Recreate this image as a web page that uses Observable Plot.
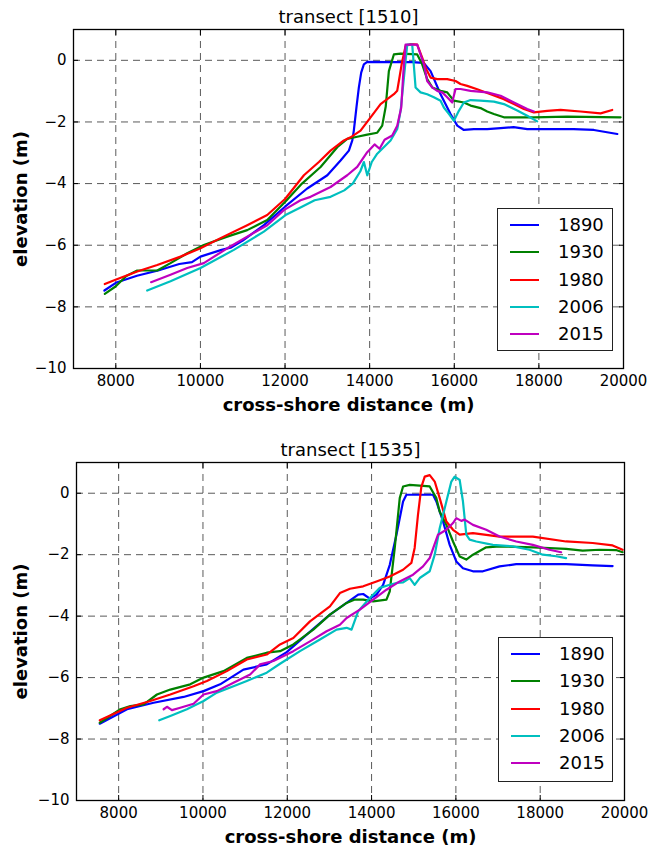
<!DOCTYPE html>
<html>
<head>
<meta charset="utf-8">
<script src="https://cdn.jsdelivr.net/npm/d3@7"></script>
<script src="https://cdn.jsdelivr.net/npm/@observablehq/plot@0.6"></script>
<style>
  html, body { margin: 0; padding: 0; background: #fff; }
  body { width: 649px; height: 848px; position: relative; overflow: hidden; font-family: "DejaVu Sans", sans-serif; }
  .panel { position: absolute; left: 0; width: 649px; height: 424px; }
  .legend { position: absolute; border: 1.3px solid #222; background: #fff; box-sizing: border-box; }
  .legend .row { position: absolute; left: 0; height: 0; }
  .legend .sw { position: absolute; left: 12px; width: 29px; height: 2px; top: -1px; }
  .legend .lb { position: absolute; left: 60px; top: -11px; font-size: 18px; line-height: 22px; color: #000; white-space: nowrap; }
</style>
</head>
<body>
<div id="top" class="panel" style="top:0"></div>
<div id="bottom" class="panel" style="top:424px"></div>
<script>
// ---------- data ----------
const years = ["1890", "1930", "1980", "2006", "2015"];
const colors = ["#0000ff", "#008000", "#ff0000", "#00bfbf", "#bf00bf"];
const xTicks = [8000, 10000, 12000, 14000, 16000, 18000, 20000];
const yTicks = [-10, -8, -6, -4, -2, 0];
const titles = ["transect [1510]", "transect [1535]"];
const xLabel = "cross-shore distance (m)";
const yLabel = "elevation (m)";

// transect 1510 : [distance, elevation]
const t1510_1890 = [[7730,-7.47],[8000,-7.22],[8500,-6.99],[9000,-6.82],[9500,-6.61],[9800,-6.55],[10000,-6.37],[10500,-6.15],[10712,-6.08],[11000,-5.85],[11500,-5.35],[12000,-4.75],[12524,-4.16],[13000,-3.73],[13312,-3.25],[13509,-2.93],[13590,-2.6],[13626,-2.28],[13690,-1.5],[13745,-0.88],[13800,-0.4],[13863,-0.13],[13943,-0.05],[14500,-0.06],[15000,-0.06],[15274,-0.08],[15440,-0.35],[15676,-1.10],[15912,-1.74],[16071,-2.12],[16227,-2.26],[16463,-2.23],[16780,-2.23],[17094,-2.2],[17402,-2.17],[17725,-2.23],[18040,-2.23],[18513,-2.23],[18820,-2.23],[19300,-2.26],[19853,-2.39]];
const t1510_1930 = [[7740,-7.58],[7993,-7.34],[8250,-7.0],[8506,-6.82],[8979,-6.82],[9293,-6.58],[9688,-6.26],[10080,-5.99],[10634,-5.72],[11106,-5.51],[11579,-5.18],[12000,-4.6],[12400,-4.0],[12840,-3.46],[13234,-2.82],[13470,-2.55],[13706,-2.48],[13943,-2.41],[14179,-2.35],[14297,-2.12],[14380,-1.5],[14454,-0.35],[14572,0.19],[14730,0.22],[15124,0.19],[15242,-0.13],[15360,-0.61],[15479,-0.88],[15676,-0.99],[15833,-1.04],[15991,-1.31],[16227,-1.37],[16385,-1.47],[16621,-1.55],[16779,-1.66],[16936,-1.74],[17173,-1.85],[17882,-1.85],[18670,-1.83],[19931,-1.85]];
const t1510_1980 = [[7740,-7.26],[7993,-7.12],[8506,-6.85],[8979,-6.64],[9530,-6.37],[10002,-6.1],[10475,-5.77],[11106,-5.35],[11579,-5.02],[12000,-4.5],[12446,-3.73],[12800,-3.3],[13076,-2.93],[13391,-2.6],[13549,-2.5],[13785,-2.28],[14022,-1.85],[14258,-1.42],[14573,-1.1],[14651,-0.99],[14700,-0.6],[14760,-0.1],[14848,0.46],[14966,0.53],[15124,0.51],[15242,0.09],[15321,-0.24],[15439,-0.56],[15597,-0.61],[15833,-0.61],[16030,-0.67],[16148,-0.77],[16306,-0.83],[16542,-0.94],[16858,-1.1],[17173,-1.26],[17409,-1.42],[17646,-1.58],[17882,-1.69],[18197,-1.64],[18512,-1.61],[18985,-1.66],[19458,-1.72],[19734,-1.61]];
const t1510_2006 = [[8742,-7.47],[9293,-7.17],[10002,-6.74],[10790,-6.15],[11499,-5.56],[12012,-5.02],[12400,-4.75],[12700,-4.54],[13076,-4.43],[13400,-4.22],[13600,-4.0],[13780,-3.6],[13864,-3.3],[13943,-3.73],[14050,-3.3],[14179,-3.03],[14495,-2.6],[14652,-2.23],[14731,-1.64],[14810,-0.56],[14888,0.51],[15006,0.51],[15085,-0.88],[15203,-1.04],[15360,-1.1],[15518,-1.2],[15676,-1.31],[15754,-1.53],[15872,-1.74],[15991,-1.96],[16109,-1.64],[16227,-1.37],[16385,-1.29],[16621,-1.31],[16936,-1.34],[17173,-1.42],[17488,-1.63],[17724,-1.80],[17961,-1.98]];
const t1510_2015 = [[8834,-7.2],[9293,-6.96],[9688,-6.74],[10080,-6.58],[10634,-6.1],[11106,-5.72],[11579,-5.35],[11972,-4.86],[12366,-4.54],[12603,-4.43],[13076,-4.11],[13470,-3.73],[13706,-3.46],[13943,-2.98],[14116,-2.73],[14234,-2.87],[14353,-2.58],[14534,-2.44],[14652,-2.12],[14747,-1.53],[14794,-0.45],[14848,0.51],[15124,0.51],[15282,-0.13],[15360,-0.67],[15479,-0.88],[15597,-0.99],[15715,-1.04],[15833,-1.2],[15951,-1.37],[16030,-0.93],[16148,-0.93],[16385,-0.99],[16779,-1.04],[17094,-1.15],[17409,-1.37],[17725,-1.58],[17882,-1.66]];

// transect 1535 : [distance, elevation]
const t1535_1890 = [[7552,-7.5],[8199,-7.03],[8830,-6.82],[9540,-6.63],[10014,-6.44],[10408,-6.22],[10960,-5.74],[11513,-5.57],[11986,-5.17],[12460,-4.6],[13012,-3.95],[13407,-3.57],[13683,-3.30],[13801,-3.28],[13959,-3.43],[14117,-3.30],[14274,-2.98],[14432,-2.33],[14590,-1.35],[14747,-0.27],[14826,-0.05],[15458,-0.05],[15537,-0.27],[15695,-0.92],[15853,-1.68],[16010,-2.22],[16168,-2.44],[16405,-2.54],[16642,-2.54],[17036,-2.38],[17431,-2.31],[17983,-2.31],[18614,-2.31],[19245,-2.35],[19718,-2.37]];
const t1535_1930 = [[7552,-7.47],[8041,-7.03],[8278,-6.93],[8594,-6.87],[8909,-6.55],[9225,-6.39],[9698,-6.22],[10014,-6.0],[10487,-5.79],[11040,-5.36],[11513,-5.19],[11828,-5.14],[12144,-4.92],[12617,-4.44],[13012,-3.95],[13407,-3.57],[13604,-3.46],[13801,-3.46],[14038,-3.52],[14353,-3.46],[14432,-3.19],[14550,-1.78],[14668,-0.16],[14747,0.22],[14906,0.27],[15379,0.22],[15537,-0.16],[15616,-0.6],[15774,-1.03],[15932,-1.57],[16090,-2.06],[16247,-2.16],[16405,-2.0],[16720,-1.76],[17036,-1.73],[17825,-1.76],[18614,-1.81],[19009,-1.87],[19403,-1.84],[19798,-1.85],[19955,-1.92]];
const t1535_1980 = [[7552,-7.39],[8199,-6.98],[8751,-6.76],[9225,-6.55],[9777,-6.28],[10093,-6.11],[10566,-5.79],[11040,-5.41],[11513,-5.25],[11828,-4.92],[12144,-4.71],[12539,-4.17],[13012,-3.68],[13249,-3.25],[13486,-3.11],[13801,-3.03],[14117,-2.87],[14432,-2.71],[14747,-2.49],[14944,-2.27],[15022,-1.78],[15101,-0.70],[15180,0.2],[15261,0.54],[15379,0.59],[15498,0.38],[15616,-0.16],[15774,-0.92],[15932,-1.19],[16090,-1.35],[16405,-1.30],[17036,-1.41],[17825,-1.41],[18614,-1.57],[19245,-1.62],[19718,-1.70],[19955,-1.84]];
const t1535_2006 = [[8964,-7.39],[9225,-7.25],[9619,-7.03],[10014,-6.76],[10329,-6.49],[10724,-6.28],[11040,-6.11],[11513,-5.84],[11828,-5.55],[12302,-5.14],[12775,-4.76],[13170,-4.44],[13407,-4.38],[13525,-4.44],[13683,-3.84],[13959,-3.41],[14196,-3.08],[14432,-2.98],[14590,-2.92],[14750,-2.9],[14905,-2.76],[15022,-2.98],[15142,-2.76],[15379,-2.54],[15498,-2.0],[15616,-1.14],[15774,-0.27],[15892,0.38],[15971,0.54],[16090,0.43],[16168,-0.27],[16247,-1.35],[16326,-1.51],[16484,-1.57],[16878,-1.68],[17352,-1.73],[17746,-1.84],[18062,-2.0],[18377,-2.05],[18614,-2.11]];
const t1535_2015 = [[9067,-7.03],[9146,-6.95],[9264,-7.06],[9461,-6.98],[9777,-6.85],[10014,-6.55],[10329,-6.44],[10724,-6.17],[11119,-5.9],[11355,-5.57],[11671,-5.46],[12144,-5.14],[12538,-4.82],[12933,-4.49],[13249,-4.28],[13407,-4.06],[13722,-3.79],[14038,-3.46],[14353,-3.14],[14668,-2.87],[14984,-2.65],[15221,-2.38],[15379,-2.11],[15458,-1.8],[15576,-1.35],[15774,-1.19],[15932,-0.97],[16010,-0.81],[16129,-0.9],[16208,-0.86],[16405,-1.03],[16720,-1.19],[17036,-1.41],[17431,-1.57],[17825,-1.68],[18220,-1.84],[18496,-1.92]];

const panels = [
  {id: "top", title: titles[0], series: [t1510_1890, t1510_1930, t1510_1980, t1510_2006, t1510_2015],
   m: {top: 29, bottom: 56, left: 73, right: 26}, titleY: 17, legend: {left: 497, top: 208, width: 116, height: 143}},
  {id: "bottom", title: titles[1], series: [t1535_1890, t1535_1930, t1535_1980, t1535_2006, t1535_2015],
   m: {top: 38, bottom: 48, left: 76, right: 25}, titleY: 26, legend: {left: 498, top: 213, width: 115, height: 145}}
];

const fmt = d => (d < 0 ? "\u2212" + Math.abs(d) : String(d));

for (const p of panels) {
  const rows = p.series.flatMap((pts, i) => pts.map(([x, y]) => ({year: years[i], x, y})));
  const chart = Plot.plot({
    width: 649, height: 424,
    marginTop: p.m.top, marginBottom: p.m.bottom, marginLeft: p.m.left, marginRight: p.m.right,
    x: {domain: [7000, 20000], axis: null},
    y: {domain: [-10, 1], axis: null},
    color: {domain: years, range: colors},
    style: {fontFamily: "DejaVu Sans", fontSize: "15px", background: "white", color: "black", overflow: "visible"},
    marks: [
      Plot.gridX(xTicks.filter(d => d < 20000), {stroke: "#000", strokeOpacity: 0.65, strokeWidth: 1, strokeDasharray: "7,5"}),
      Plot.gridY(yTicks.filter(d => d > -10), {stroke: "#000", strokeOpacity: 0.65, strokeWidth: 1, strokeDasharray: "7,5"}),
      Plot.line(rows, {x: "x", y: "y", z: "year", stroke: "year", strokeWidth: 2.2, strokeLinejoin: "round"}),
      Plot.axisX(xTicks, {anchor: "bottom", tickSize: -5, tickFormat: () => "", label: null, strokeWidth: 1}),
      Plot.axisX(xTicks, {anchor: "top", tickSize: -5, tickFormat: () => "", label: null, strokeWidth: 1}),
      Plot.axisY(yTicks, {anchor: "left", tickSize: -5, tickFormat: () => "", label: null, strokeWidth: 1}),
      Plot.axisY(yTicks, {anchor: "right", tickSize: -5, tickFormat: () => "", label: null, strokeWidth: 1}),
      Plot.frame({stroke: "#000", strokeWidth: 1.3}),
      Plot.text(xTicks, {x: d => d, frameAnchor: "bottom", lineAnchor: "middle", dy: 13, text: d => String(d), fontSize: 15, fill: "#000"}),
      Plot.text(yTicks, {y: d => d, frameAnchor: "left", lineAnchor: "middle", dx: -7, textAnchor: "end", text: fmt, fontSize: 15, fill: "#000"}),
      Plot.text([p.title], {frameAnchor: "top", lineAnchor: "middle", dy: p.titleY - p.m.top, text: d => d, fontSize: 18, fill: "#000"}),
      Plot.text([xLabel], {frameAnchor: "bottom", lineAnchor: "middle", dy: 37, text: d => d, fontSize: 18, fontWeight: "bold", fill: "#000"}),
      Plot.text([yLabel], {frameAnchor: "left", lineAnchor: "middle", textAnchor: "middle", dx: -(p.m.left - 21), rotate: -90, text: d => d, fontSize: 18, fontWeight: "bold", fill: "#000"})
    ]
  });
  const host = document.getElementById(p.id);
  host.appendChild(chart);

  const lg = document.createElement("div");
  lg.className = "legend";
  Object.assign(lg.style, {left: p.legend.left + "px", top: p.legend.top + "px", width: p.legend.width + "px", height: p.legend.height + "px"});
  years.forEach((yr, i) => {
    const r = document.createElement("div");
    r.className = "row";
    r.style.top = (16 + 27.3 * i) + "px";
    const sw = document.createElement("div");
    sw.className = "sw"; sw.style.background = colors[i];
    const lb = document.createElement("div");
    lb.className = "lb"; lb.textContent = yr;
    r.appendChild(sw); r.appendChild(lb);
    lg.appendChild(r);
  });
  host.appendChild(lg);
}
</script>
</body>
</html>
